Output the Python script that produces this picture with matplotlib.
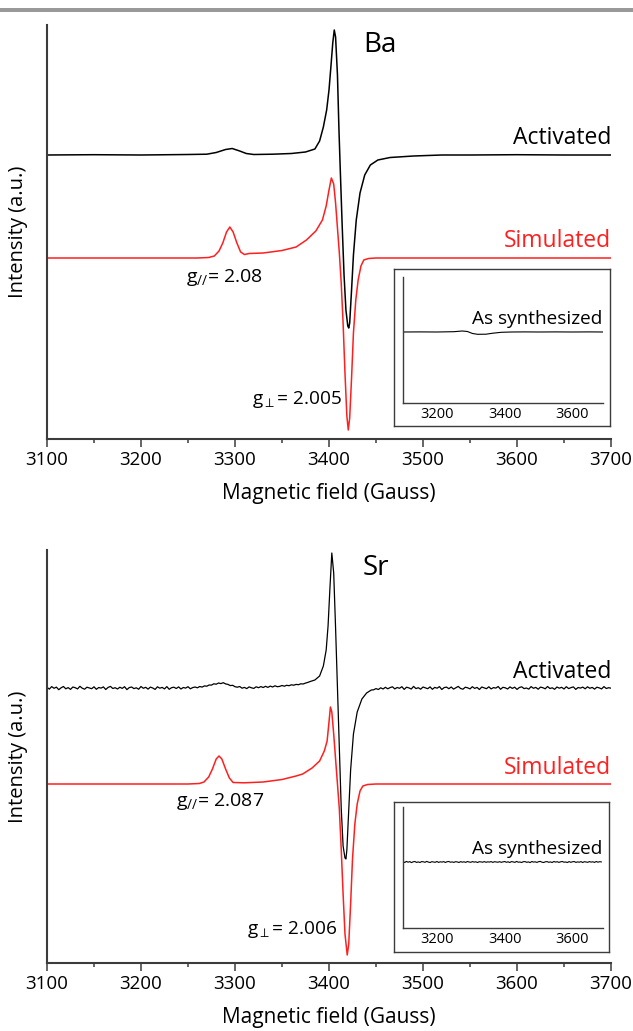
import numpy as np
import matplotlib
matplotlib.use("Agg")
import matplotlib.pyplot as plt
from matplotlib.patches import Rectangle

plt.rcParams['font.family'] = ['Open Sans', 'DejaVu Sans']
plt.rcParams['mathtext.fontset'] = 'custom'
plt.rcParams['mathtext.rm'] = 'Open Sans'
plt.rcParams['mathtext.it'] = 'Open Sans:italic'

RED = '#ff1f1f'
AXC = '#3c3c3c'

# ---------------- Ba panel (signal relative to each trace's baseline, a.u.) ----------------
ba_act_field = [3100, 3150, 3200, 3250, 3270, 3280, 3290, 3297, 3305, 3312, 3320, 3340,
                3360, 3375, 3385, 3390, 3394, 3397.5, 3400, 3402, 3404, 3405.6, 3407,
                3409, 3410.6, 3412, 3414, 3416, 3418, 3420, 3421, 3422, 3424, 3426,
                3429, 3433, 3438, 3444, 3452, 3465, 3490, 3520, 3550, 3600, 3650, 3700]
ba_act_int = [0, 0.3, 0, 0.5, 0.8, 2.5, 5.5, 6.5, 4, 1.5, 0.5, 0.8,
              1.5, 3, 6, 14, 28, 45, 65, 88, 112, 125, 118,
              80, 25, -15, -70, -120, -155, -171, -173, -168, -135, -100,
              -65, -38, -20, -10, -5, -2.5, -1, 0, 0, 0.3, 0, 0]

ba_sim_field = [3100, 3260, 3272, 3278, 3283, 3287, 3291, 3294.5, 3298, 3302, 3306, 3310,
                3315, 3330, 3350, 3365, 3376, 3386, 3393, 3397, 3400, 3402.5, 3405,
                3407, 3409, 3411, 3413, 3415, 3417, 3419, 3420.5, 3422, 3424, 3426,
                3428.5, 3431, 3434, 3437, 3442, 3450, 3700]
ba_sim_int = [0, 0, 0.5, 2, 7, 15, 26, 31, 26, 15, 6, 3.5,
              4.5, 5, 7.5, 11, 18, 27, 38, 52, 68, 80, 74,
              55, 30, 5, -25, -65, -115, -158, -172, -160, -120, -75,
              -42, -22, -8, -2, -0.5, 0, 0]

ba_raw_field = [3100, 3150, 3200, 3250, 3275, 3290, 3305, 3320, 3345, 3365, 3390, 3420,
                3460, 3500, 3550, 3600, 3650, 3690]
ba_raw_int = [0, 0.1, 0, 0.3, 1, 0.5, -1.5, -2.3, -2.2, -1.2, -0.3, 0,
              0.1, 0, 0.1, 0, 0.1, 0]

# ---------------- Sr panel ----------------
sr_act_field_lo = np.arange(3100, 3380, 2.5)
sr_act_int_lo = [0.6, -1.1, 1.4, -0.3, 0.9, -1.7, 0.2, 1.5, -0.8, 0.4,
                 -1.4, 1.0, 0.3, -0.9, 1.7, -0.2, -1.2, 0.8, 0.1, -0.7,
                 1.2, -1.3, 0.5, -0.1, 1.1, -1.5, 0.6, 1.6, -0.5, 0.3,
                 -1.0, 0.8, -0.4, 1.3, -1.6, 0.4, 1.0, -0.6, 0.2, -1.2,
                 1.5, -0.3, 0.7, -1.1, 0.9, 0.0, -1.4, 1.2, -0.2, 0.6,
                 -0.9, 1.4, -1.3, 0.3, 0.8, -0.5, 1.1, -1.0, 0.5, -0.1,
                 1.3, -0.8, 0.4, 1.0, 0.2, 1.5, 0.9, 2.1, 1.8, 3.0,
                 2.9, 4.2, 3.8, 5.0, 4.4, 5.3, 4.1, 3.6, 2.4, 2.7,
                 1.3, 0.8, 1.5, -0.2, 0.6, -0.6, 1.1, 0.2, -0.4, 1.2,
                 0.3, 1.4, 0.5, 1.7, 0.6, 1.9, 1.0, 2.2, 1.3, 1.6,
                 2.5, 1.8, 2.7, 2.3, 3.2, 2.8, 3.6, 3.3, 4.2, 4.0,
                 4.9, 5.6]
sr_act_field_pk = [3380, 3385, 3390, 3394, 3397, 3399, 3401, 3403, 3405, 3407, 3409,
                   3411, 3413, 3415, 3417, 3418, 3419, 3421, 3423, 3426, 3430, 3435,
                   3440, 3445]
sr_act_int_pk = [6.5, 8, 12, 22, 38, 62, 100, 135, 115, 60, 0,
                 -60, -120, -158, -170, -171, -162, -122, -82, -46, -24, -11,
                 -5, -2]
sr_act_field_hi = np.arange(3447.5, 3702.5, 2.5)
sr_act_int_hi = [-1.8, -0.6, -1.5, 0.2, -1.0, 0.7, -0.8, 0.4, 1.2, -0.9,
                 0.5, -0.3, 1.3, -1.4, 0.8, 0.1, -1.0, 1.6, -0.6, 0.3,
                 -1.2, 1.0, 0.2, -0.7, 1.1, -1.3, 0.6, -0.2, 1.4, -1.5,
                 0.4, 0.9, -0.7, 1.0, -1.1, 0.3, 1.6, -0.5, -1.2, 0.8,
                 0.2, -0.9, 1.3, -0.4, 0.6, -1.5, 1.0, 0.1, -0.7, 1.2,
                 -0.9, 0.4, -0.1, 1.5, -1.3, 0.7, 0.2, -1.0, 1.1, -0.4,
                 0.8, -1.4, 0.5, 1.2, -0.6, 0.0, -1.1, 1.4, -0.3, 0.6,
                 -1.2, 0.9, 0.3, -0.8, 1.5, -0.5, 0.2, -1.3, 1.0, -0.2,
                 0.7, -1.0, 1.3, -0.6, 0.4, 1.1, -1.4, 0.5, -0.1, 0.9,
                 -0.8, 1.2, -0.3, 0.6, -1.1, 0.8, 0.1, -0.9, 1.4, -0.5,
                 0.3, -0.2]

sr_sim_field = [3100, 3250, 3262, 3267, 3272, 3276, 3280, 3283, 3286, 3290, 3294, 3298,
                3310, 3330, 3350, 3365, 3372, 3382, 3390, 3395, 3398, 3400, 3401.5,
                3403, 3405, 3407, 3409, 3411, 3413, 3415, 3417, 3419.4, 3421, 3423,
                3425, 3427.5, 3430, 3433, 3436, 3441, 3450, 3700]
sr_sim_int = [0, 0, 0.5, 2, 7, 15, 25, 28, 25, 15, 6, 1.5,
              1.2, 2, 4.5, 8, 10, 16, 23, 33, 43, 62, 77,
              72, 50, 25, 0, -25, -65, -110, -150, -171, -160, -120,
              -75, -40, -20, -7, -2, -0.5, 0, 0]

sr_raw_field = np.arange(3100, 3690, 5)
sr_raw_int = [0.3, -0.5, 0.6, -0.2, 0.4, -0.6, 0.2, 0.5, -0.4, 0.1,
              -0.5, 0.4, 0.2, -0.3, 0.6, -0.1, -0.5, 0.3, 0.0, -0.3,
              0.5, -0.4, 0.2, -0.1, 0.4, -0.5, 0.3, 0.5, -0.2, 0.1,
              -0.4, 0.3, 0.1, -0.5, 0.4, -0.2, 0.2, -0.4, 0.5, 0.0,
              -0.3, 0.4, -0.1, 0.2, -0.5, 0.3, 0.1, -0.2, 0.4, -0.3,
              0.2, -0.1, 0.4, -0.4, 0.3, 0.0, -0.2, 0.3, -0.3, 0.1,
              0.5, -0.3, 0.2, -0.5, 0.4, 0.1, -0.4, 0.6, -0.2, 0.0,
              -0.5, 0.3, 0.4, -0.3, 0.1, -0.6, 0.5, -0.1, 0.2, -0.4,
              0.3, 0.6, -0.2, -0.5, 0.2, 0.4, -0.3, 0.1, -0.5, 0.5,
              -0.1, 0.3, -0.4, 0.2, 0.5, -0.2, 0.0, -0.5, 0.4, -0.3,
              0.2, 0.5, -0.4, 0.1, -0.2, 0.4, -0.5, 0.3, 0.0, -0.3,
              0.4, -0.1, 0.2, -0.4, 0.5, -0.2, 0.3, 0.1]

xticks_major = [3100, 3200, 3300, 3400, 3500, 3600, 3700]
inset_ticks = [3200, 3400, 3600]

W, H = 633, 1031


def fx(px):
    return px / W


def fy(py):
    return 1 - py / H


def style_main(ax, ytop):
    ax.set_xlim(3100, 3700)
    ax.set_ylim(0, ytop)
    for s in ['top', 'right']:
        ax.spines[s].set_visible(False)
    for s in ['left', 'bottom']:
        ax.spines[s].set_color(AXC)
        ax.spines[s].set_linewidth(1.5)
    ax.set_yticks([])
    ax.set_xticks(xticks_major)
    ax.set_xticks(np.arange(3150, 3700, 100), minor=True)
    ax.tick_params(axis='x', which='major', direction='out', length=5.5, width=1.1,
                   color=AXC, labelsize=13.5, pad=3)
    ax.tick_params(axis='x', which='minor', direction='out', length=3, width=1.1, color=AXC)
    ax.set_xlabel('Magnetic field (Gauss)', fontsize=15, labelpad=10)
    ax.text(-29 / 564, 0.5, 'Intensity (a.u.)', rotation=90, ha='center', va='center',
            fontsize=14.5, transform=ax.transAxes)


def add_inset(fig, frame_px, inner_px, field, vals, ylim, label_y):
    x0, y0, x1, y1 = frame_px
    fr = fig.add_axes([fx(x0), fy(y1), (x1 - x0) / W, (y1 - y0) / H])
    fr.set_xticks([])
    fr.set_yticks([])
    for s in fr.spines.values():
        s.set_color(AXC)
        s.set_linewidth(1.0)
    fr.patch.set_facecolor('white')

    x0, y0, x1, y1 = inner_px
    ia = fig.add_axes([fx(x0), fy(y1), (x1 - x0) / W, (y1 - y0) / H])
    ia.patch.set_alpha(0)
    ia.plot(field, vals, color='black', lw=0.8)
    ia.set_xlim(3100, 3690)
    ia.set_ylim(*ylim)
    for s in ['top', 'right']:
        ia.spines[s].set_visible(False)
    for s in ['left', 'bottom']:
        ia.spines[s].set_color(AXC)
        ia.spines[s].set_linewidth(1.0)
    ia.set_yticks([])
    ia.set_xticks(inset_ticks)
    ia.tick_params(axis='x', length=0, labelsize=10.5, pad=3)
    ia.text(3688, label_y, 'As synthesized', ha='right', va='center', fontsize=13.7)
    return ia


fig = plt.figure(figsize=(W / 100, H / 100), dpi=100)
fig.add_artist(Rectangle((0, fy(12)), 1, (12 - 8) / H, transform=fig.transFigure,
                         facecolor='#999999', edgecolor='none'))

# ---- Ba ----
ax1 = fig.add_axes([fx(47), fy(439), (611 - 47) / W, (439 - 25) / H])
style_main(ax1, 414)
act_off, sim_off = 284, 181
ax1.plot(ba_sim_field, np.array(ba_sim_int) + sim_off, color=RED, lw=1.1)
ax1.plot(ba_act_field, np.array(ba_act_int) + act_off, color='black', lw=1.1)
ax1.text(3700, 301, 'Activated', ha='right', va='center', fontsize=16.5)
ax1.text(3700, 198, 'Simulated', ha='right', va='center', fontsize=16.5, color=RED)
ax1.text(3436, 394, 'Ba', ha='left', va='center', fontsize=20)
ax1.text(3248, 161, r'g$_{//}$= 2.08', ha='left', va='center', fontsize=14)
ax1.text(3318, 39, r'g$_{\perp}$= 2.005', ha='left', va='center', fontsize=13.7)
add_inset(fig, (394, 269, 610, 426), (403, 277, 603, 403), ba_raw_field, ba_raw_int,
          (-71, 55), 13)

# ---- Sr ----
ax2 = fig.add_axes([fx(47), fy(963), (611 - 47) / W, (963 - 550) / H])
style_main(ax2, 413)
act_off, sim_off = 275, 179
ax2.plot(sr_sim_field, np.array(sr_sim_int) + sim_off, color=RED, lw=1.1)
sr_field = np.concatenate([sr_act_field_lo, sr_act_field_pk, sr_act_field_hi])
sr_int = np.concatenate([sr_act_int_lo, sr_act_int_pk, sr_act_int_hi])
ax2.plot(sr_field, sr_int + act_off, color='black', lw=0.9)
ax2.text(3700, 291, 'Activated', ha='right', va='center', fontsize=16.5)
ax2.text(3700, 195, 'Simulated', ha='right', va='center', fontsize=16.5, color=RED)
ax2.text(3436, 395, 'Sr', ha='left', va='center', fontsize=20)
ax2.text(3237, 161, r'g$_{//}$= 2.087', ha='left', va='center', fontsize=14)
ax2.text(3313, 33, r'g$_{\perp}$= 2.006', ha='left', va='center', fontsize=13.7)
add_inset(fig, (394, 802, 609, 952), (403, 807, 603, 928), sr_raw_field, sr_raw_int,
          (-66, 55), 13)

fig.savefig('out.png', dpi=100)
